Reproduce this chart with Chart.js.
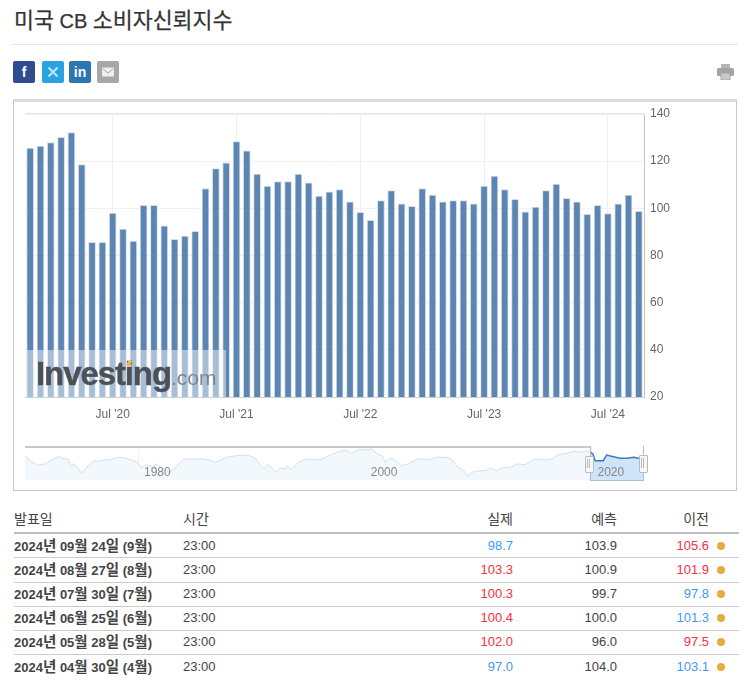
<!DOCTYPE html>
<html lang="ko">
<head>
<meta charset="utf-8">
<title>미국 CB 소비자신뢰지수</title>
<script src="https://cdn.jsdelivr.net/npm/chart.js@4"></script>
<style>
  html, body { margin: 0; padding: 0; background: #fff; }
  body { position: relative; width: 743px; height: 690px; overflow: hidden;
         font-family: "Liberation Sans", "Noto Sans CJK KR", sans-serif; color: #333; }
  .abs { position: absolute; }
  canvas { position: absolute; display: block; }
  h1 { position: absolute; left: 14px; top: 8px; margin: 0; font-size: 20px; line-height: 26px; font-weight: 400; color: #333;
       -webkit-text-stroke: 0.25px #333; white-space: nowrap; }
  h1 span { font-size: 21.7px; }
  .share { position: absolute; top: 61px; width: 22px; height: 22px; border-radius: 2px; color: #fff;
           font-weight: 700; text-align: center; line-height: 22px; font-size: 14px; }
  .cell { position: absolute; font-size: 13px; line-height: 16px; white-space: nowrap; color: #444; }
  .cell .ko { font-size: 14.5px; }
  .head { font-size: 14px; }
  .right { text-align: right; width: 80px; }
  .up { color: #f5303f; }
  .down { color: #3f9bf2; }
  .rule { position: absolute; left: 14px; width: 725px; background: #ccc; height: 1px; }
</style>
</head>
<body>
<h1><span>미국</span> CB <span>소비자신뢰지수</span></h1>
<div class="abs" style="left:13px;top:44px;width:725px;height:1px;background:#e6e6e6"></div>

<div class="share" style="left:13px;background:#2f4d8e">f</div>
<div class="share" style="left:42px;background:#27a3e0">
  <svg width="22" height="22" viewBox="0 0 22 22"><path d="M6.5 6.5 L15.5 15.5 M15.5 6.5 L6.5 15.5" stroke="#bfe4f7" stroke-width="2"/></svg>
</div>
<div class="share" style="left:69px;background:#2c77b3">in</div>
<div class="share" style="left:97px;background:#a7a7a7">
  <svg width="22" height="22" viewBox="0 0 22 22"><rect x="5" y="6.5" width="12" height="9" rx="1" fill="#eee"/><path d="M5.5 7.5 L11 12 L16.5 7.5" fill="none" stroke="#a7a7a7"/></svg>
</div>
<svg class="abs" style="left:717px;top:64px" width="17" height="16" viewBox="0 0 17 16">
  <rect x="4" y="0" width="9" height="4" fill="#b5b5b5"/>
  <rect x="0" y="4" width="17" height="8" rx="1.5" fill="#a3a3a3"/>
  <rect x="4" y="9" width="9" height="7" fill="#c9c9c9" stroke="#a3a3a3"/>
</svg>

<!-- box around both charts -->
<div class="abs" style="left:13px;top:99px;width:722px;height:388px;border:1px solid #c6c6c6;border-top:3px solid #dcdcdc;box-sizing:content-box"></div>

<canvas id="barChart" style="left:25px;top:106px"></canvas>

<!-- Investing.com watermark -->
<div class="abs" style="left:27px;top:350px;width:199px;height:47px;background:rgba(255,255,255,.47)"></div>
<div class="abs" style="left:36px;top:355px;font-size:33px;line-height:38px;font-weight:700;letter-spacing:-1.1px;color:#4c5157;white-space:nowrap;-webkit-text-stroke:0.4px #4c5157">Investing<span style="font-size:21px;font-weight:400;letter-spacing:0;color:#7f8489;-webkit-text-stroke:0">.com</span></div>
<div class="abs" style="left:127px;top:361px;width:4px;height:5px;background:#f5b942;transform:skewX(-20deg)"></div>

<canvas id="navChart" style="left:25px;top:447px"></canvas>

<!-- navigator frame and handles -->
<div class="abs" style="left:25px;top:446px;width:566px;height:2px;background:#c9c9c9"></div>
<div class="abs" style="left:590px;top:447px;width:1px;height:34px;background:#a9bfd6"></div>
<div class="abs" style="left:590px;top:480px;width:54px;height:1px;background:#a9bfd6"></div>
<div class="abs" style="left:643px;top:446px;width:1px;height:35px;background:#a9bfd6"></div>
<div class="abs" style="left:585px;top:456px;width:7px;height:15px;background:#f7f7f7;border:1px solid #bbb;border-radius:1px"></div>
<div class="abs" style="left:587px;top:459px;width:3px;height:9px;border-left:1px solid #bbb;border-right:1px solid #bbb;box-sizing:border-box"></div>
<div class="abs" style="left:639px;top:455px;width:7px;height:16px;background:#f7f7f7;border:1px solid #bbb;border-radius:1px"></div>
<div class="abs" style="left:641px;top:458px;width:3px;height:10px;border-left:1px solid #bbb;border-right:1px solid #bbb;box-sizing:border-box"></div>

<div id="table"></div>

<script>
// 월별 지수 (막대 차트)
const months = [
  "Nov '19", "Dec '19", "Jan '20", "Feb '20", "Mar '20", "Apr '20", "May '20", "Jun '20", "Jul '20", "Aug '20",
  "Sep '20", "Oct '20", "Nov '20", "Dec '20", "Jan '21", "Feb '21", "Mar '21", "Apr '21", "May '21", "Jun '21",
  "Jul '21", "Aug '21", "Sep '21", "Oct '21", "Nov '21", "Dec '21", "Jan '22", "Feb '22", "Mar '22", "Apr '22",
  "May '22", "Jun '22", "Jul '22", "Aug '22", "Sep '22", "Oct '22", "Nov '22", "Dec '22", "Jan '23", "Feb '23",
  "Mar '23", "Apr '23", "May '23", "Jun '23", "Jul '23", "Aug '23", "Sep '23", "Oct '23", "Nov '23", "Dec '23",
  "Jan '24", "Feb '24", "Mar '24", "Apr '24", "May '24", "Jun '24", "Jul '24", "Aug '24", "Sep '24", "Oct '24"
];
const indexValues = [
  125.5, 126.4, 127.9, 130.1, 132.1, 118.6, 85.6, 85.6, 98.0, 91.2,
  86.1, 101.3, 101.3, 92.6, 86.9, 88.2, 90.2, 108.4, 116.9, 119.3,
  128.3, 124.4, 114.5, 109.4, 111.3, 111.3, 114.5, 110.8, 105.2, 107.0,
  108.0, 102.8, 98.3, 94.9, 103.3, 107.5, 101.9, 100.9, 108.4, 105.6,
  102.8, 103.3, 103.3, 101.9, 109.4, 113.7, 108.0, 103.8, 98.5, 100.5,
  107.5, 110.3, 104.2, 102.8, 97.5, 101.3, 97.8, 101.9, 105.6, 98.7
];
const yTicks = [20, 40, 60, 80, 100, 120, 140];

// 전체 기간 (내비게이터)
const navYears = [
  1970.0, 1970.5, 1971.1, 1971.8, 1972.4, 1973.0, 1973.4, 1973.8, 1974.1, 1974.3, 1974.6, 1975.0,
  1975.5, 1976.1, 1976.6, 1977.0, 1977.5, 1978.1, 1978.7, 1979.3, 1979.9, 1980.3, 1980.7, 1981.2,
  1981.6, 1982.1, 1982.7, 1983.3, 1984.0, 1984.9, 1985.6, 1986.2, 1986.8, 1987.2, 1987.7, 1988.1,
  1988.8, 1989.7, 1990.3, 1990.8, 1991.1, 1991.4, 1991.8, 1992.1, 1992.5, 1993.0, 1993.1, 1993.5,
  1994.1, 1994.9, 1995.5, 1996.2, 1997.1, 1998.0, 1998.4, 1998.8, 1999.4, 2000.0, 2000.6, 2001.0,
  2001.5, 2001.8, 2002.2, 2002.7, 2003.2, 2003.8, 2004.6, 2005.3, 2005.7, 2006.2, 2006.6, 2007.2,
  2007.6, 2008.2, 2008.7, 2009.1, 2009.4, 2010.1, 2010.6, 2011.1, 2011.6, 2012.0, 2012.8, 2013.4,
  2014.1, 2015.0, 2015.9, 2016.5, 2017.0, 2017.8, 2018.4, 2018.9, 2019.5, 2019.9
];
const navValues = [
  115, 91, 75, 80, 98, 112, 101, 101, 65, 82, 65, 41,
  68, 94, 90, 98, 97, 108, 107, 98, 87, 62, 77, 68,
  80, 62, 44, 65, 101, 101, 101, 97, 87, 94, 108, 111,
  117, 117, 105, 72, 58, 77, 62, 44, 61, 58, 72, 55,
  87, 101, 97, 101, 122, 137, 137, 125, 140, 141, 144, 125,
  115, 87, 105, 94, 72, 80, 101, 101, 97, 108, 108, 108,
  101, 65, 51, 25, 44, 51, 51, 62, 51, 62, 65, 80,
  77, 101, 97, 101, 120, 125, 134, 130, 134, 130
];
const selectedYears = [2019.9, 2020.1, 2020.3, 2021.0, 2021.3, 2021.9, 2022.5, 2023.1, 2023.7, 2024.1, 2024.6];
const selectedValues = [130, 122, 94, 94, 118, 111, 104, 104, 108, 104, 100];
const navTicks = [1980, 2000, 2020];

// 발표 표
const tableHeaders = ["발표일", "시간", "실제", "예측", "이전"];
const releaseDates = [
  "2024년 09월 24일 (9월)", "2024년 08월 27일 (8월)", "2024년 07월 30일 (7월)",
  "2024년 06월 25일 (6월)", "2024년 05월 28일 (5월)", "2024년 04월 30일 (4월)"
];
const releaseTimes = ["23:00", "23:00", "23:00", "23:00", "23:00", "23:00"];
const actuals = ["98.7", "103.3", "100.3", "100.4", "102.0", "97.0"];
const forecasts = ["103.9", "100.9", "99.7", "100.0", "96.0", "104.0"];
const previous = ["105.6", "101.9", "97.8", "101.3", "97.5", "103.1"];
const previousDirection = ["up", "up", "down", "down", "up", "down"];

// 막대 차트 외곽선 (위, 왼쪽)
const plotFrame = {
  id: "plotFrame",
  afterDraw(chart) {
    const { ctx, chartArea: a } = chart;
    ctx.save();
    ctx.lineWidth = 1;
    ctx.strokeStyle = "#e4e4e4";
    ctx.beginPath();
    ctx.moveTo(a.left, a.top - 0.5);
    ctx.lineTo(a.right, a.top - 0.5);
    ctx.stroke();
    ctx.strokeStyle = "#cfcfcf";
    ctx.beginPath();
    ctx.moveTo(a.left - 0.5, a.top);
    ctx.lineTo(a.left - 0.5, a.bottom);
    ctx.stroke();
    ctx.restore();
  }
};

const barCanvas = document.getElementById("barChart");
barCanvas.width = 670;
barCanvas.height = 322;
new Chart(barCanvas, {
  type: "bar",
  data: {
    labels: months,
    datasets: [{
      data: indexValues,
      backgroundColor: "#5c85b2",
      borderColor: "#d4deea",
      borderWidth: { left: 1, right: 1, top: 1, bottom: 0 },
      borderSkipped: false,
      barThickness: 7
    }]
  },
  options: {
    responsive: false,
    animation: false,
    layout: { autoPadding: false, padding: { top: 8 } },
    plugins: { legend: { display: false }, tooltip: { enabled: false } },
    scales: {
      x: {
        afterFit(scale) { scale.height = 31; },
        grid: {
          offset: false,
          tickLength: 8,
          tickColor: "transparent",
          color: ctx => (months[ctx.index] || "").startsWith("Jul") ? "#efefef" : "transparent"
        },
        border: { color: "#c9d3de" },
        ticks: {
          autoSkip: false,
          maxRotation: 0,
          padding: 2,
          color: "#666",
          font: { family: "Liberation Sans", size: 12 },
          callback(value) {
            const label = months[value];
            return label.startsWith("Jul") ? label : "";
          }
        }
      },
      y: {
        position: "right",
        min: 20,
        max: 140,
        afterBuildTicks(scale) { scale.ticks = yTicks.map(v => ({ value: v })); },
        afterFit(scale) { scale.width = 51; },
        grid: { tickLength: 6, tickColor: "transparent", color: "#f1f1f1" },
        border: { color: "#c4c4c4" },
        ticks: {
          padding: 0,
          color: "#666",
          font: { family: "Liberation Sans", size: 12 }
        }
      }
    }
  },
  plugins: [plotFrame]
});

const navCanvas = document.getElementById("navChart");
navCanvas.width = 619;
navCanvas.height = 33;
new Chart(navCanvas, {
  type: "line",
  data: {
    datasets: [
      {
        data: navYears.map((year, i) => ({ x: year, y: navValues[i] })),
        borderColor: "#cfe0f0",
        backgroundColor: "#f3f8fd",
        borderWidth: 1,
        pointRadius: 0,
        tension: 0,
        fill: "start"
      },
      {
        data: selectedYears.map((year, i) => ({ x: year, y: selectedValues[i] })),
        borderColor: "#3f7cb6",
        backgroundColor: "#cfe3fa",
        borderWidth: 1.5,
        pointRadius: 0,
        tension: 0,
        fill: "start"
      }
    ]
  },
  options: {
    responsive: false,
    animation: false,
    layout: { autoPadding: false },
    plugins: { legend: { display: false }, tooltip: { enabled: false } },
    scales: {
      x: {
        type: "linear",
        min: 1970,
        max: 2024.6,
        afterBuildTicks(scale) { scale.ticks = navTicks.map(v => ({ value: v })); },
        afterFit(scale) { scale.height = 0; },
        grid: { drawTicks: false, color: "#f4f4f4" },
        border: { display: false },
        ticks: {
          z: 1,
          mirror: true,
          padding: 0,
          labelOffset: 19,
          maxRotation: 0,
          color: "#888",
          font: { family: "Liberation Sans", size: 12 },
          callback: value => String(value)
        }
      },
      y: { display: false, min: 10.8, max: 152.6, ticks: { display: false } }
    }
  }
});

// 표 그리기
const table = document.getElementById("table");
const rowCenters = [546, 570, 594, 618, 642, 667];
const rowRules = [557, 582, 606, 630, 654];

function addCell(text, left, centerY, extraClass, right) {
  const el = document.createElement("div");
  el.className = "cell " + (extraClass || "");
  el.textContent = text;
  el.style.top = (centerY - 8) + "px";
  if (right) {
    el.classList.add("right");
    el.style.left = (right - 80) + "px";
  } else {
    el.style.left = left + "px";
  }
  table.appendChild(el);
  return el;
}

addCell(tableHeaders[0], 14, 519, "head");
addCell(tableHeaders[1], 183, 519, "head");
addCell(tableHeaders[2], 0, 519, "head", 513);
addCell(tableHeaders[3], 0, 519, "head", 617);
addCell(tableHeaders[4], 0, 519, "head", 709);

const headRule = document.createElement("div");
headRule.className = "rule";
headRule.style.cssText = "top:532px;height:2px;background:#bdbdbd";
table.appendChild(headRule);

rowRules.forEach(y => {
  const rule = document.createElement("div");
  rule.className = "rule";
  rule.style.top = y + "px";
  table.appendChild(rule);
});

releaseDates.forEach((date, i) => {
  const y = rowCenters[i];
  const dateCell = addCell(date, 14, y);
  dateCell.style.fontWeight = "700";
  // 한글만 조금 크게
  dateCell.innerHTML = date.replace(/[가-힣]+/g, m => `<span class="ko">${m}</span>`);
  addCell(releaseTimes[i], 183, y);
  const dir = parseFloat(actuals[i]) > parseFloat(forecasts[i]) ? "up" : "down";
  addCell(actuals[i], 0, y, dir, 513);
  addCell(forecasts[i], 0, y, "", 617);
  addCell(previous[i], 0, y, previousDirection[i], 709);
  const dot = document.createElement("div");
  dot.className = "abs";
  dot.style.cssText = `left:717px;top:${y - 4}px;width:8px;height:8px;border-radius:50%;background:#e8ab3f`;
  table.appendChild(dot);
});
</script>
</body>
</html>
